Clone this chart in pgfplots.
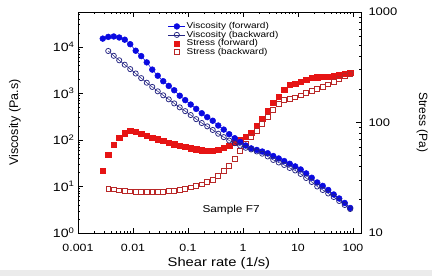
\documentclass[border=0pt]{standalone}
\usepackage{fontspec}
\setmainfont{Liberation Sans}[FakeStretch=1.18]
\newfontfamily\plainsans{Liberation Sans}
\usepackage{pgfplots}
\pgfplotsset{compat=1.18}
\usepackage{pgfplotstable}
\definecolor{fwdblue}{RGB}{10,10,225}
\definecolor{bwdblue}{RGB}{35,35,130}
\definecolor{fwdred}{RGB}{230,20,20}
\definecolor{bwdred}{RGB}{185,40,40}

\pgfplotstableread{
x v
0.00282 15070
0.00355 16410
0.00447 16750
0.00562 15920
0.00708 14290
0.00891 11430
0.0112 8280
0.0141 6340
0.0178 4650
0.0224 3250
0.0282 2400
0.0355 1830
0.0447 1450
0.0562 1170
0.0708 893
0.0891 718
0.112 577
0.141 465
0.178 375
0.224 309
0.282 259
0.355 204
0.447 167
0.562 133
0.708 109
0.891 90.2
1.12 75.9
1.41 65.9
1.78 61.0
2.24 56.4
2.82 51.8
3.55 45.1
4.47 40.0
5.62 35.2
7.08 30.8
8.91 27.0
11.2 23.2
14.1 19.1
17.8 15.4
22.4 12.2
28.2 10.3
35.5 8.41
44.7 6.73
56.2 5.52
70.8 4.42
89.1 3.45
}\viscfwd

\pgfplotstableread{
x v
0.00355 8170
0.00447 6440
0.00562 5150
0.00708 4140
0.00891 3330
0.0112 2680
0.0141 2130
0.0178 1700
0.0224 1380
0.0282 1110
0.0355 910
0.0447 746
0.0562 610
0.0708 502
0.0891 416
0.112 343
0.141 280
0.178 231
0.224 196
0.282 164
0.355 136
0.447 115
0.562 97.1
0.708 85.3
0.891 75.3
1.12 67.9
1.41 62.5
1.78 56.6
2.24 50.7
2.82 44.2
3.55 37.2
4.47 32.8
5.62 29.0
7.08 25.0
8.91 22.1
11.2 18.6
14.1 15.2
17.8 12.5
22.4 10.0
28.2 8.41
35.5 7.07
44.7 5.94
56.2 4.88
70.8 4.00
89.1 3.28
}\viscbwd

\pgfplotstableread{
x s
0.00282 36.4
0.00355 51.3
0.00447 63.2
0.00562 72.7
0.00708 80.0
0.00891 83.8
0.0112 82.0
0.0141 79.5
0.0178 76.0
0.0224 72.8
0.0282 70.5
0.0355 68.0
0.0447 65.8
0.0562 63.5
0.0708 61.3
0.0891 60.0
0.112 58.5
0.141 57.3
0.178 56.1
0.224 55.6
0.282 55.7
0.355 56.7
0.447 58.9
0.562 61.9
0.708 65.2
0.891 69.9
1.12 74.8
1.41 80.3
1.78 93.0
2.24 109
2.82 127
3.55 150
4.47 172
5.62 199
7.08 218
8.91 225
11.2 234
14.1 245
17.8 254
22.4 257
28.2 258
35.5 258
44.7 262
56.2 268
70.8 275
89.1 281
}\strfwd

\pgfplotstableread{
x s
0.00355 25.3
0.00447 24.8
0.00562 24.3
0.00708 23.9
0.00891 23.8
0.0112 23.6
0.0141 23.5
0.0178 23.5
0.0224 23.5
0.0282 23.5
0.0355 23.6
0.0447 23.9
0.0562 24.2
0.0708 24.5
0.0891 25.2
0.112 25.9
0.141 26.7
0.178 27.6
0.224 28.8
0.282 30.1
0.355 32.9
0.447 36.3
0.562 40.6
0.708 46.7
0.891 55.2
1.12 64.7
1.41 74.7
1.78 84.7
2.24 96.9
2.82 113
3.55 131
4.47 148
5.62 161
7.08 164
8.91 169
11.2 176
14.1 184
17.8 192
22.4 201
28.2 210
35.5 221
44.7 233
56.2 248
70.8 264
89.1 277
}\strbwd

\begin{document}
\begin{tikzpicture}
\path[use as bounding box] (0pt,0pt) rectangle (432pt,276pt);
\fill[black!8] (0pt,0pt) rectangle (432pt,6pt);
% stress axis (right)
\begin{axis}[
  at={(78pt,43pt)}, anchor=south west,
  width=283pt, height=221pt, scale only axis,
  xmode=log, ymode=log,
  xmin=0.001, xmax=140, ymin=10, ymax=1000,
  xtick=\empty,
  ytick={10,100,1000}, yticklabels={10,100,1000},
  minor ytick={20,30,40,50,60,70,80,90,200,300,400,500,600,700,800,900},
  ytick pos=right, yticklabel pos=right,
  tick align=inside,
  major tick length=5pt, minor tick length=2.5pt,
  axis line style={line width=0.8pt},
  every tick/.style={black, line width=0.6pt},
  yticklabel style={font=\fontsize{11}{11}\selectfont, xshift=4pt},
  ylabel={Stress (Pa)},
  ylabel style={font=\plainsans\fontsize{12}{12}\selectfont, at={(axis description cs:1.216,0.502)}, anchor=center, rotate=180},
]
\addplot[only marks, mark=square*, mark size=2.6pt, color=fwdred] table[x=x,y=s] {\strfwd};
\addplot[only marks, mark=square, mark size=2.4pt, color=bwdred, mark options={line width=0.7pt}] table[x=x,y=s] {\strbwd};
\end{axis}
% viscosity axis (left)
\begin{axis}[
  at={(78pt,43pt)}, anchor=south west,
  width=283pt, height=221pt, scale only axis,
  xmode=log, ymode=log,
  xmin=0.001, xmax=140, ymin=1, ymax=56234,
  xtick={0.001,0.01,0.1,1,10,100},
  xticklabels={0.001,0.01,0.1,1,10,100},
  minor xtick={0.002,0.003,0.004,0.005,0.006,0.007,0.008,0.009,0.02,0.03,0.04,0.05,0.06,0.07,0.08,0.09,0.2,0.3,0.4,0.5,0.6,0.7,0.8,0.9,2,3,4,5,6,7,8,9,20,30,40,50,60,70,80,90},
  ytick={1,10,100,1000,10000},
  yticklabels={10\textsuperscript{0},10\textsuperscript{1},10\textsuperscript{2},10\textsuperscript{3},10\textsuperscript{4}},
  minor ytick={2,3,4,5,6,7,8,9,20,30,40,50,60,70,80,90,200,300,400,500,600,700,800,900,2000,3000,4000,5000,6000,7000,8000,9000,20000,30000,40000,50000},
  ytick pos=left, xtick pos=both, xticklabel pos=bottom,
  tick align=inside,
  major tick length=5pt, minor tick length=2.5pt,
  axis line style={line width=0.8pt},
  every tick/.style={black, line width=0.6pt},
  xticklabel style={font=\fontsize{10.5}{10.5}\selectfont, yshift=-8pt},
  yticklabel style={font=\fontsize{12}{12}\selectfont},
  xlabel={Shear rate (1/s)},
  xlabel style={font=\fontsize{12.5}{12.5}\selectfont, at={(axis description cs:0.498,-0.136)}, anchor=center},
  ylabel={Viscosity (Pa.s)},
  ylabel style={font=\plainsans\fontsize{12.5}{12.5}\selectfont, at={(axis description cs:-0.223,0.5)}, anchor=center},
  legend style={at={(axis description cs:0.314,0.962)}, anchor=north west, draw=none, fill=none,
    font=\fontsize{8.5}{8.5}\selectfont, row sep=-1.2pt, inner sep=1pt, nodes={inner sep=1pt}},
  legend cell align=left,
]
\addplot[color=fwdblue, line width=0.5pt, mark=*, mark size=2.9pt] table[x=x,y=v] {\viscfwd};
\addlegendentry{Viscosity (forward)}
\addplot[color=bwdblue, line width=0.5pt, mark=o, mark size=2.6pt, mark options={line width=0.75pt}] table[x=x,y=v] {\viscbwd};
\addlegendentry{Viscosity (backward)}
\addlegendimage{only marks, mark=square*, mark size=2.6pt, color=fwdred}
\addlegendentry{Stress (forward)}
\addlegendimage{only marks, mark=square, mark size=2.4pt, color=bwdred, mark options={line width=0.7pt}}
\addlegendentry{Stress (backward)}
\node[font=\fontsize{10}{10}\selectfont, anchor=west] at (axis description cs:0.4276,0.104) {Sample F7};
\end{axis}
\end{tikzpicture}
\end{document}
